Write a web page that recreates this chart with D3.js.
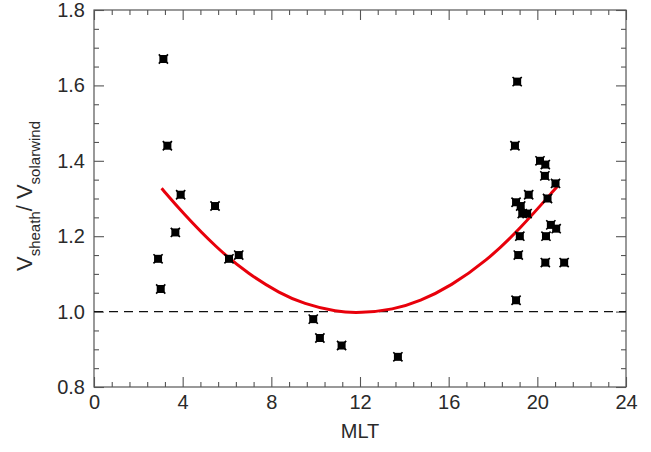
<!DOCTYPE html>
<html><head><meta charset="utf-8">
<script src="https://cdn.jsdelivr.net/npm/d3@7"></script>
<style>body{margin:0;background:#fff}svg{display:block}</style>
</head><body>
<svg id="c" width="651" height="452"></svg>
<script>
// Data
const mlt = [3.13, 3.31, 3.91, 3.67, 2.89, 3.01, 5.46, 6.09, 6.53,
  9.89, 10.19, 11.17, 13.71,
  19.09, 18.99, 20.12, 20.36, 20.34, 20.82, 19.61, 20.46, 19.04, 19.25, 19.32, 19.54,
  20.61, 20.85, 19.21, 20.39, 19.14, 20.36, 21.21, 19.04];
const ratio = [1.67, 1.44, 1.31, 1.21, 1.14, 1.06, 1.28, 1.14, 1.15,
  0.98, 0.93, 0.91, 0.88,
  1.61, 1.44, 1.40, 1.39, 1.36, 1.34, 1.31, 1.30, 1.29, 1.28, 1.26, 1.26,
  1.23, 1.22, 1.20, 1.20, 1.15, 1.13, 1.13, 1.03];
// Fitted curve
const fitX = [3.05, 4.0, 5.5, 7.0, 8.4, 9.45, 10.95, 12.0, 13.5, 14.7, 16.1, 17.7, 19.2, 20.9];
const fitY = [1.327, 1.262, 1.170, 1.098, 1.048, 1.021, 0.999, 0.996, 1.005, 1.027, 1.068, 1.134, 1.218, 1.332];
const xTicks = [0, 4, 8, 12, 16, 20, 24];
const yTicks = [0.8, 1.0, 1.2, 1.4, 1.6, 1.8];
const refLevel = 1.0;

const svg = d3.select("#c");
const L = 94, R = 626, T = 10, B = 387;
const x = d3.scaleLinear().domain([0, 24]).range([L, R]);
const y = d3.scaleLinear().domain([0.8, 1.8]).range([B, T]);
const axisCol = "#555";
const txtCol = "#2a2a2a";
const font = "'Liberation Sans', Arial, sans-serif";
const fs = 20;

const xMinor = d3.range(0, 24.001, 0.8).filter(v => Math.abs(v/4 - Math.round(v/4)) > 1e-6);
const yMinor = d3.range(0.8, 1.8001, 0.05).filter(v => Math.abs(v/0.2 - Math.round(v/0.2)) > 1e-6);

const g = svg.append("g");
g.append("rect").attr("x", L).attr("y", T).attr("width", R - L).attr("height", B - T)
  .attr("fill", "none").attr("stroke", axisCol).attr("stroke-width", 1.2);

function ticks(axisGen, tr, vals, size) {
  const a = g.append("g").attr("transform", tr)
    .call(axisGen.tickValues(vals).tickSize(size).tickSizeOuter(0).tickFormat(""));
  a.select(".domain").remove();
  a.selectAll("line").attr("stroke", axisCol).attr("stroke-width", 1.1);
  return a;
}
ticks(d3.axisTop(x), `translate(0,${B})`, xTicks, 10);
ticks(d3.axisTop(x), `translate(0,${B})`, xMinor, 5);
ticks(d3.axisBottom(x), `translate(0,${T})`, xTicks, 10);
ticks(d3.axisBottom(x), `translate(0,${T})`, xMinor, 5);
ticks(d3.axisRight(y), `translate(${L},0)`, yTicks, 10);
ticks(d3.axisRight(y), `translate(${L},0)`, yMinor, 5);
ticks(d3.axisLeft(y), `translate(${R},0)`, yTicks, 10);
ticks(d3.axisLeft(y), `translate(${R},0)`, yMinor, 5);

const xl = g.append("g").attr("transform", `translate(0,${B})`)
  .call(d3.axisBottom(x).tickValues(xTicks).tickSize(0).tickPadding(8).tickFormat(d3.format("d")));
xl.select(".domain").remove();
xl.selectAll("text").attr("font-family", font).attr("font-size", fs).attr("fill", txtCol);

const yl = g.append("g").attr("transform", `translate(${L},0)`)
  .call(d3.axisLeft(y).tickValues(yTicks).tickSize(0).tickPadding(9).tickFormat(d3.format(".1f")));
yl.select(".domain").remove();
yl.selectAll("text").attr("font-family", font).attr("font-size", fs).attr("fill", txtCol);

// dashed reference line
g.append("line").attr("x1", L).attr("x2", R).attr("y1", y(refLevel)).attr("y2", y(refLevel))
  .attr("stroke", "#111").attr("stroke-width", 1.1).attr("stroke-dasharray", "9,6");

// fitted curve
const fit = fitX.map((v, i) => [v, fitY[i]]);
g.append("path").datum(fit)
  .attr("d", d3.line().x(d => x(d[0])).y(d => y(d[1])).curve(d3.curveBasis))
  .attr("fill", "none").attr("stroke", "#e8000b").attr("stroke-width", 3);

// points
const pts = mlt.map((v, i) => [v, ratio[i]]);
const s = 4.6;
g.append("g").selectAll("path").data(pts).join("path")
  .attr("transform", d => `translate(${x(d[0])},${y(d[1])})`)
  .attr("d", `M${-s},${-s}L${s},${s}M${-s},${s}L${s},${-s}`)
  .attr("stroke", "#000").attr("stroke-width", 1.6);
g.append("g").selectAll("rect").data(pts).join("rect")
  .attr("x", d => x(d[0]) - 4).attr("y", d => y(d[1]) - 4)
  .attr("width", 8).attr("height", 8).attr("fill", "#000");

// axis titles
svg.append("text").attr("x", x(12)).attr("y", 438).attr("text-anchor", "middle")
  .attr("font-family", font).attr("font-size", fs).attr("fill", txtCol).text("MLT");

const yt = svg.append("text").attr("transform", `translate(32,196) rotate(-90)`)
  .attr("text-anchor", "middle").attr("font-family", font).attr("font-size", 22).attr("fill", txtCol);
yt.append("tspan").text("V");
yt.append("tspan").attr("font-size", 15).attr("dy", 8).text("sheath");
yt.append("tspan").attr("dy", -8).text("/ V");
yt.append("tspan").attr("font-size", 15).attr("dy", 8).text("solarwind");
</script>
</body></html>
